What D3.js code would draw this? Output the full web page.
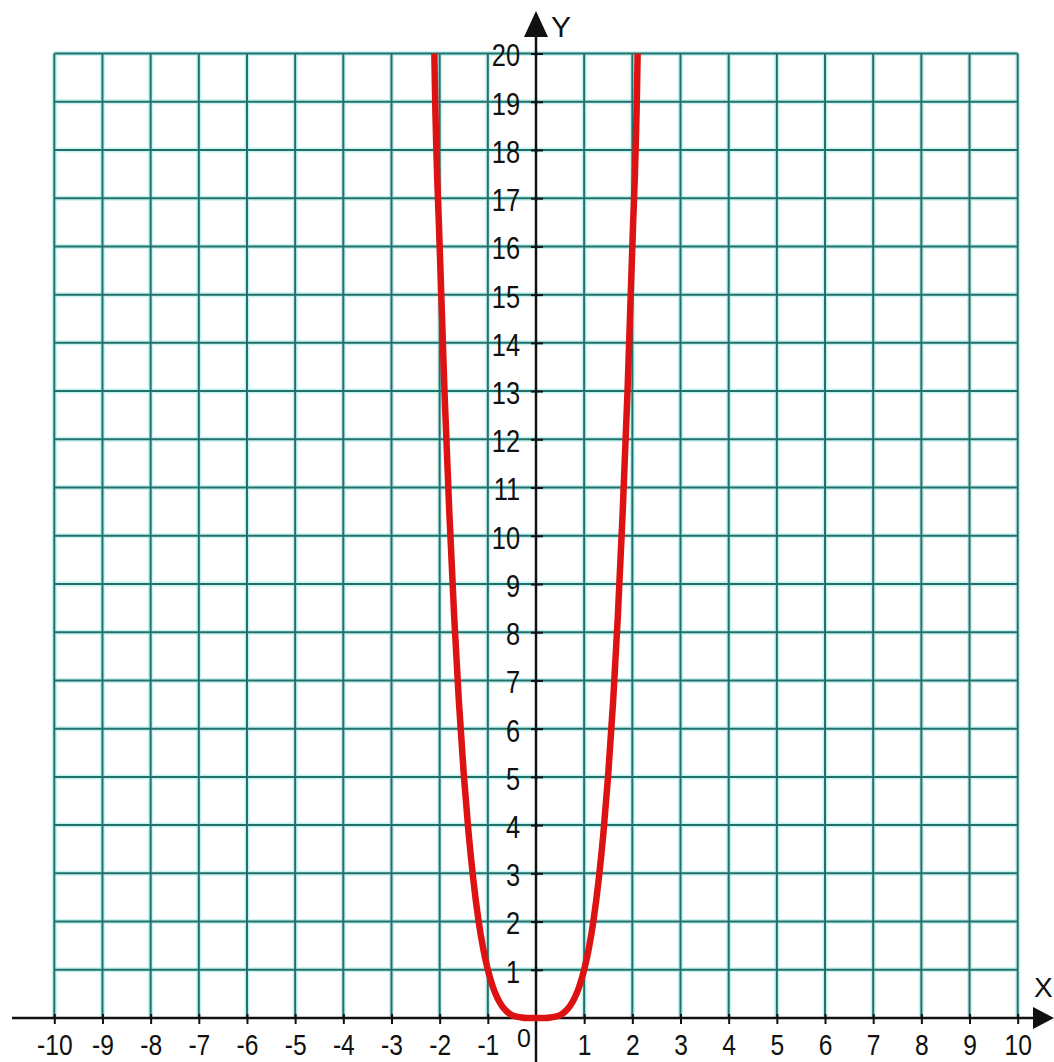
<!DOCTYPE html>
<html>
<head>
<meta charset="utf-8">
<script src="https://cdn.jsdelivr.net/npm/d3@7"></script>
<style>
  html, body { margin: 0; padding: 0; background: #fff; }
  #svg { width: 1054px; height: 1062px; }
  text { font-family: "Liberation Sans", Arial, sans-serif; fill: #111; }
</style>
</head>
<body>
<div id="svg"></div>
<script>
// valores de los ejes
const xTicks = [-10, -9, -8, -7, -6, -5, -4, -3, -2, -1, 1, 2, 3, 4, 5, 6, 7, 8, 9, 10];
const yTicks = [1, 2, 3, 4, 5, 6, 7, 8, 9, 10, 11, 12, 13, 14, 15, 16, 17, 18, 19, 20];
const gridX = [-10, -9, -8, -7, -6, -5, -4, -3, -2, -1, 1, 2, 3, 4, 5, 6, 7, 8, 9, 10];
const gridY = [1, 2, 3, 4, 5, 6, 7, 8, 9, 10, 11, 12, 13, 14, 15, 16, 17, 18, 19, 20];

// puntos de la curva
const curvaX = [-2.11, -2.1, -2.0, -1.9, -1.8, -1.7, -1.6, -1.5, -1.4, -1.3, -1.2, -1.1, -1.0,
  -0.9, -0.8, -0.7, -0.6, -0.5, -0.4, -0.3, -0.2, -0.1, 0,
  0.1, 0.2, 0.3, 0.4, 0.5, 0.6, 0.7, 0.8, 0.9, 1.0,
  1.1, 1.2, 1.3, 1.4, 1.5, 1.6, 1.7, 1.8, 1.9, 2.0, 2.1, 2.11];
const curvaY = [20, 19.4, 16, 13, 10.5, 8.35, 6.55, 5.06, 3.84, 2.86, 2.07, 1.46, 1,
  0.66, 0.41, 0.24, 0.13, 0.06, 0.03, 0.01, 0, 0, 0,
  0, 0, 0.01, 0.03, 0.06, 0.13, 0.24, 0.41, 0.66, 1,
  1.46, 2.07, 2.86, 3.84, 5.06, 6.55, 8.35, 10.5, 13, 16, 19.4, 20];

const width = 1054;
const height = 1062;
const escalaTexto = 0.82;

const svg = d3.select("#svg")
  .append("svg")
  .attr("width", width)
  .attr("height", height);

const x = d3.scaleLinear().domain([-10, 10]).range([54.3, 1017.7]);
const y = d3.scaleLinear().domain([0, 20]).range([1018, 53.5]);

// rejilla: halo claro + linea oscura
const grid = svg.append("g");
[{ color: "#c4f3f1", w: 5 }, { color: "#236f6a", w: 2 }].forEach((capa) => {
  grid.append("g")
    .attr("stroke", capa.color)
    .attr("stroke-width", capa.w)
    .selectAll("line.v")
    .data(gridX)
    .join("line")
    .attr("x1", (d) => x(d)).attr("x2", (d) => x(d))
    .attr("y1", y(20)).attr("y2", y(0));
  grid.append("g")
    .attr("stroke", capa.color)
    .attr("stroke-width", capa.w)
    .selectAll("line.h")
    .data(gridY)
    .join("line")
    .attr("x1", x(-10)).attr("x2", x(10))
    .attr("y1", (d) => y(d)).attr("y2", (d) => y(d));
});

// ejes
const ejeX = svg.append("g")
  .attr("transform", `translate(0,${y(0)})`)
  .call(d3.axisBottom(x).tickValues(xTicks).tickSize(6).tickFormat((d) => String(d)));
ejeX.select(".domain").remove();
ejeX.selectAll(".tick line").attr("y1", -4).attr("y2", 6).attr("stroke", "#111").attr("stroke-width", 2);
ejeX.selectAll(".tick text")
  .attr("font-size", 30).attr("font-family", null)
  .attr("y", 37).attr("dy", null)
  .attr("transform", `scale(${escalaTexto},1)`);

const ejeY = svg.append("g")
  .attr("transform", `translate(${x(0)},0)`)
  .call(d3.axisLeft(y).tickValues(yTicks).tickSize(5).tickFormat((d) => String(d)));
ejeY.select(".domain").remove();
ejeY.selectAll(".tick line").attr("x1", -5).attr("x2", 7).attr("stroke", "#111").attr("stroke-width", 2);
ejeY.selectAll(".tick text")
  .attr("font-size", 31).attr("font-family", null)
  .attr("x", -16 / escalaTexto).attr("dy", "0.4em")
  .attr("transform", `scale(${escalaTexto},1)`);

// lineas de los ejes con flechas
svg.append("line")
  .attr("x1", 12).attr("x2", 1040)
  .attr("y1", y(0)).attr("y2", y(0))
  .attr("stroke", "#111").attr("stroke-width", 2.5);
svg.append("line")
  .attr("x1", x(0)).attr("x2", x(0))
  .attr("y1", 20).attr("y2", height)
  .attr("stroke", "#111").attr("stroke-width", 2.5);
svg.append("path")
  .attr("d", `M${x(0)},11 L${x(0) - 12},37 L${x(0) + 12},37 Z`)
  .attr("fill", "#111");
svg.append("path")
  .attr("d", `M1054,${y(0)} L1033,${y(0) - 11} L1033,${y(0) + 11} Z`)
  .attr("fill", "#111");

svg.append("text").attr("x", 551).attr("y", 37).attr("font-size", 30).text("Y");
svg.append("text").attr("x", 1034).attr("y", 997).attr("font-size", 28).text("X");
svg.append("text").attr("x", 524).attr("y", 1047).attr("font-size", 25)
  .attr("text-anchor", "middle").text("0");

// curva
const puntos = curvaX.map((d, i) => [d, curvaY[i]]);
const linea = d3.line()
  .x((d) => x(d[0]))
  .y((d) => y(d[1]))
  .curve(d3.curveMonotoneX);

svg.append("path")
  .datum(puntos)
  .attr("fill", "none")
  .attr("stroke", "#dd1212")
  .attr("stroke-width", 6.5)
  .attr("stroke-linejoin", "round")
  .attr("d", linea);
</script>
</body>
</html>
